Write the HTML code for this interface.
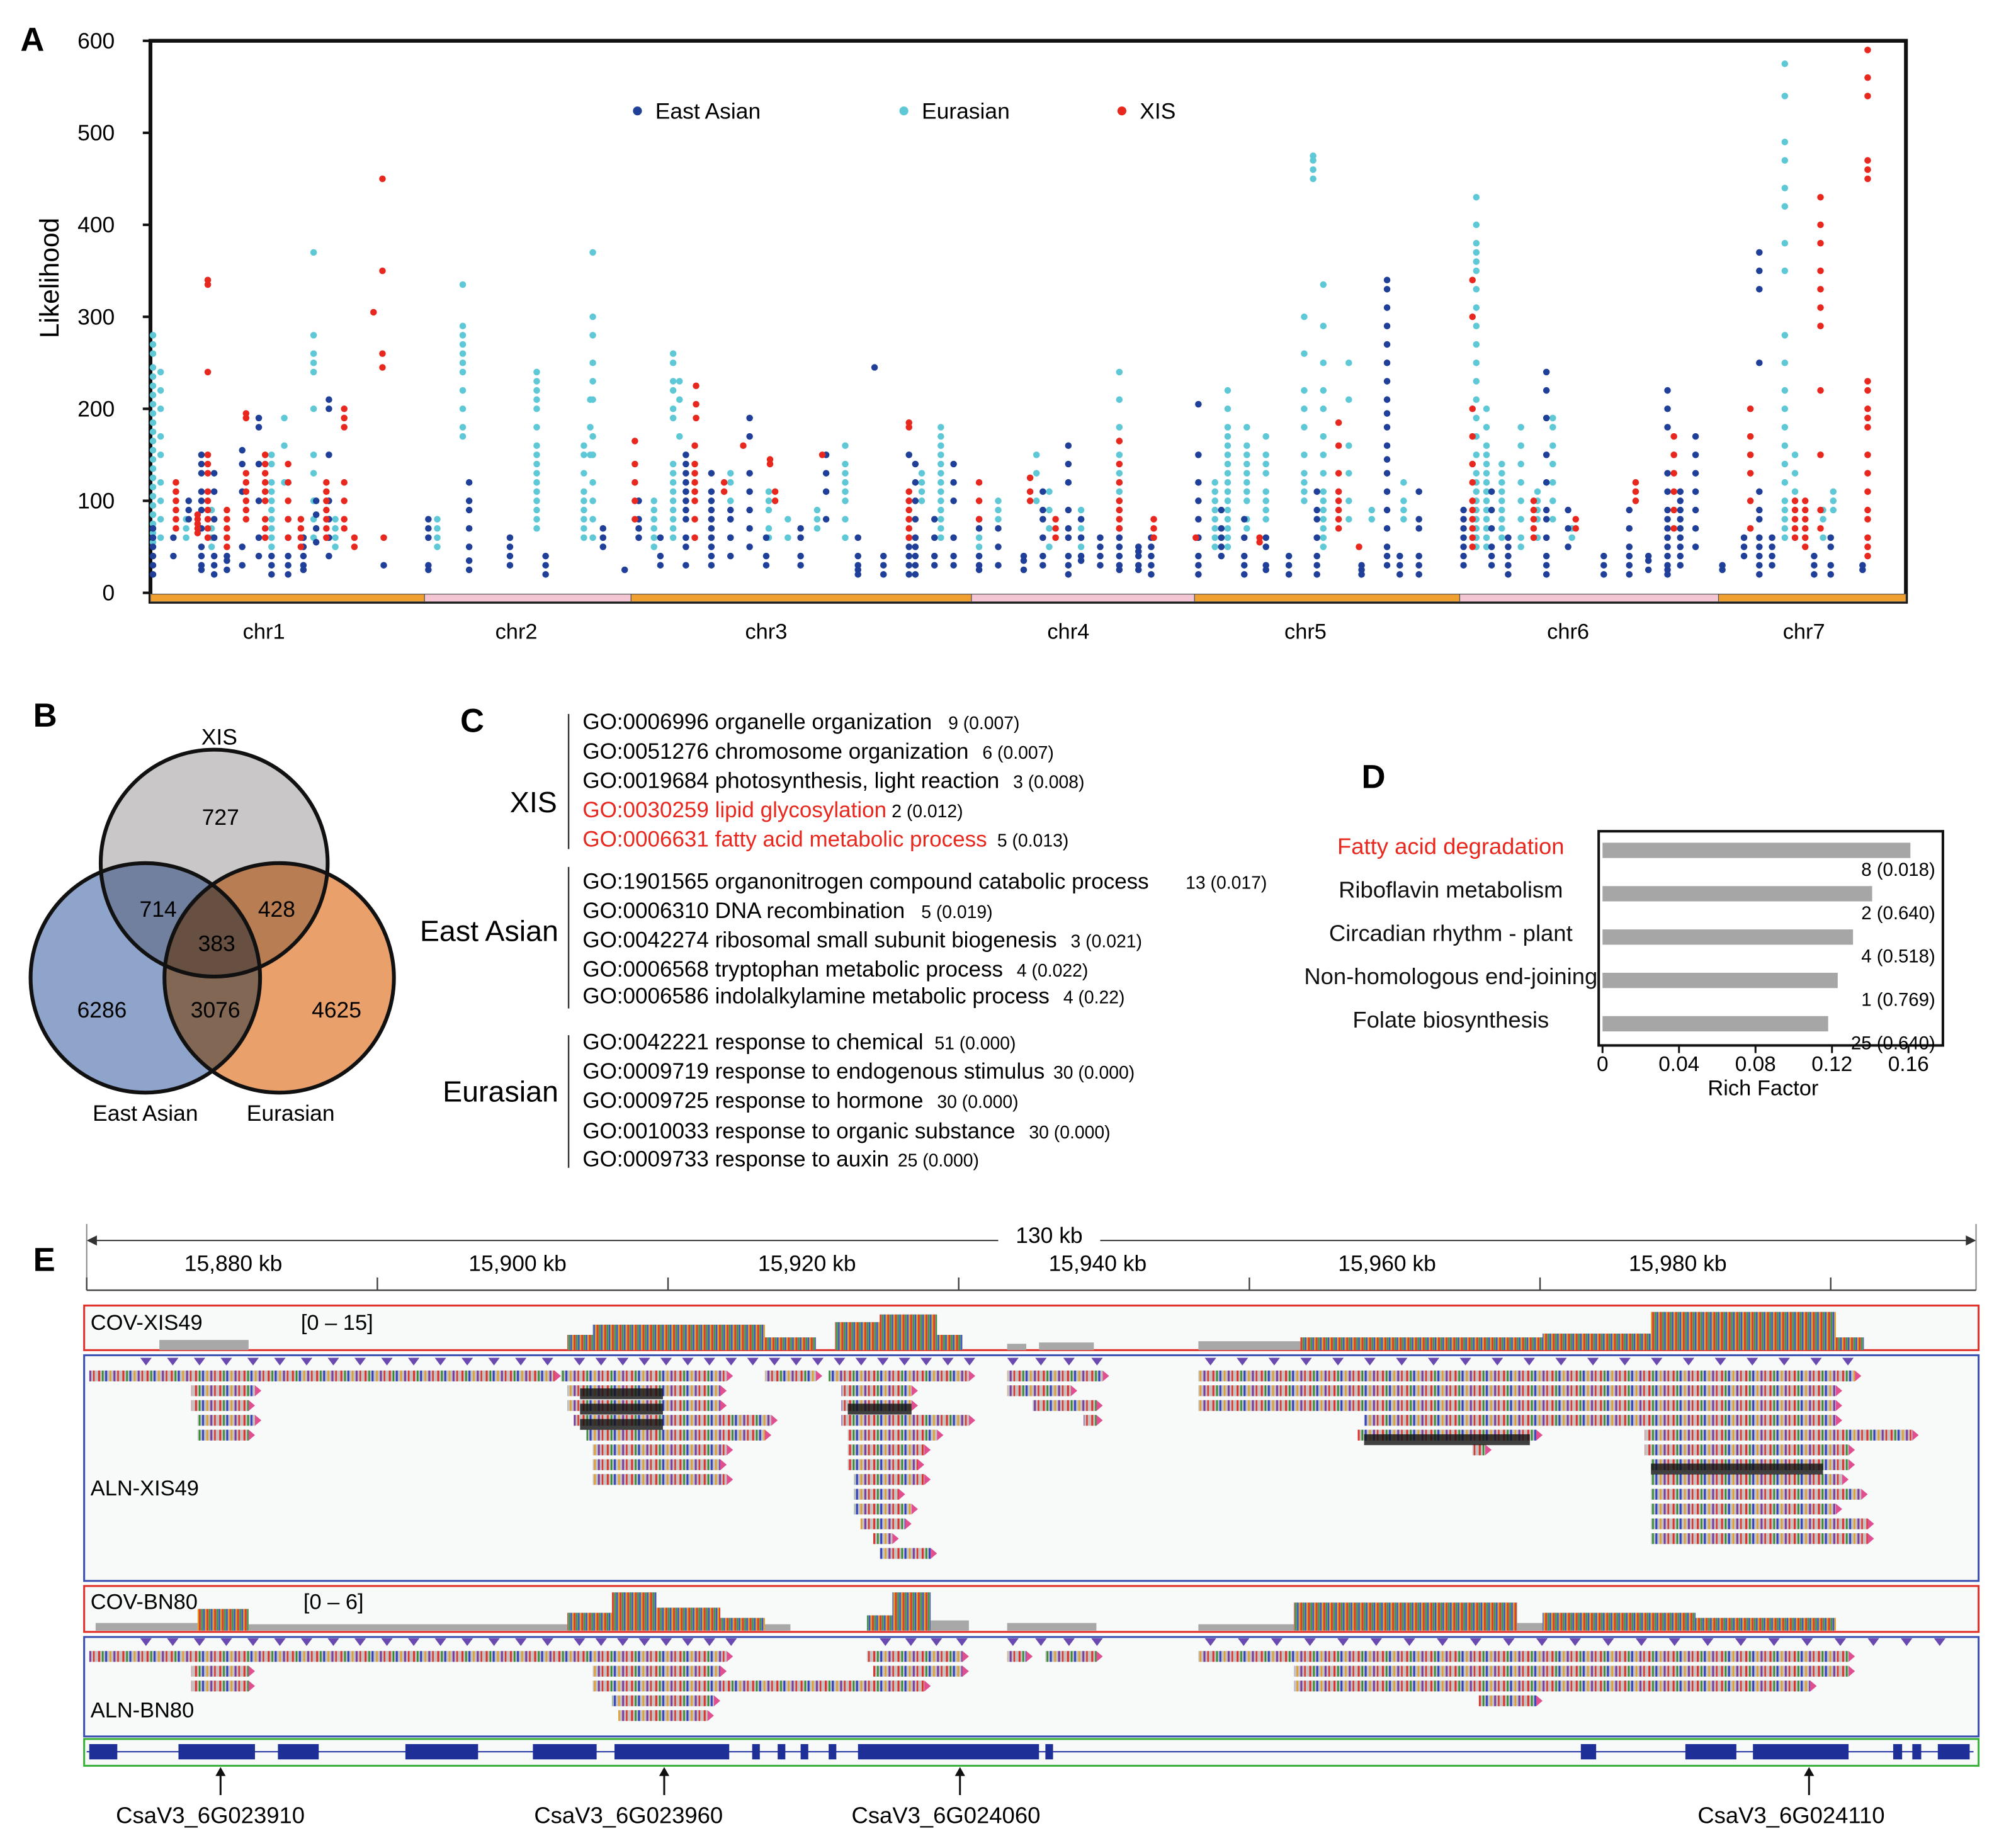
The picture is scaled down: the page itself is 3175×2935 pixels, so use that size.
<!DOCTYPE html>
<html><head><meta charset="utf-8">
<style>
html,body{margin:0;padding:0;background:#fff;}
svg{display:block;font-family:"Liberation Sans",Arial,sans-serif;}
</style></head>
<body>
<svg id="fig" width="3175" height="2935" viewBox="0 0 1568 1449.5" preserveAspectRatio="none" xmlns="http://www.w3.org/2000/svg">
<defs>
<pattern id="mix" width="19" height="10" patternUnits="userSpaceOnUse">
<rect width="19" height="10" fill="#c4c4c4"/>
<rect x="1" width="1.5" height="10" fill="#e0302a"/>
<rect x="4" width="1.2" height="10" fill="#2a8a2a"/>
<rect x="6.5" width="1.5" height="10" fill="#3040c0"/>
<rect x="10" width="1.2" height="10" fill="#e89a20"/>
<rect x="13" width="1.5" height="10" fill="#7a3aa0"/>
<rect x="16" width="1.2" height="10" fill="#e0302a"/>
</pattern>
<pattern id="cov" width="6" height="10" patternUnits="userSpaceOnUse">
<rect width="6" height="10" fill="#999"/>
<rect x="0" width="1.5" height="10" fill="#d8402a"/>
<rect x="2" width="1" height="10" fill="#2f9a3a"/>
<rect x="3.5" width="1" height="10" fill="#3050c8"/>
<rect x="5" width="1" height="10" fill="#e8a020"/>
</pattern>
</defs>

<!-- Panel A -->
<text x="16" y="40" font-size="26" font-weight="bold">A</text>
<g id="panelA"></g>
<text transform="translate(46,218) rotate(-90)" text-anchor="middle" font-size="21">Likelihood</text>
<g>
<circle cx="500" cy="87" r="3.5" fill="#1f3f98"/>
<text x="514" y="93" font-size="17.5">East Asian</text>
<circle cx="709" cy="87" r="3.5" fill="#5ec8d6"/>
<text x="723" y="93" font-size="17.5">Eurasian</text>
<circle cx="880" cy="87" r="3.5" fill="#e8281e"/>
<text x="894" y="93" font-size="17.5">XIS</text>
</g>

<!-- Panel B -->
<text x="26" y="570" font-size="26" font-weight="bold">B</text>
<g>
<g style="isolation:isolate">
<circle cx="168" cy="677" r="89" fill="#c9c7c8" style="mix-blend-mode:multiply"/>
<circle cx="114" cy="767" r="90" fill="#8ea4ca" style="mix-blend-mode:multiply"/>
<circle cx="219" cy="767" r="90" fill="#eaa06a" style="mix-blend-mode:multiply"/>
</g>
<circle cx="168" cy="677" r="89" fill="none" stroke="#111" stroke-width="3"/>
<circle cx="114" cy="767" r="90" fill="none" stroke="#111" stroke-width="3"/>
<circle cx="219" cy="767" r="90" fill="none" stroke="#111" stroke-width="3"/>
<g font-size="17.5" text-anchor="middle">
<text x="172" y="584">XIS</text>
<text x="173" y="647">727</text>
<text x="124" y="719">714</text>
<text x="217" y="719">428</text>
<text x="170" y="746">383</text>
<text x="80" y="798">6286</text>
<text x="169" y="798">3076</text>
<text x="264" y="798">4625</text>
<text x="114" y="879">East Asian</text>
<text x="228" y="879">Eurasian</text>
</g>
</g>

<!-- Panel C -->
<text x="361" y="574" font-size="26" font-weight="bold">C</text>
<g font-size="17.3">
<line x1="446" y1="560" x2="446" y2="666" stroke="#333" stroke-width="1.2"/>
<line x1="446" y1="680" x2="446" y2="791" stroke="#333" stroke-width="1.2"/>
<line x1="446" y1="812" x2="446" y2="916" stroke="#333" stroke-width="1.2"/>
<text x="437" y="637" font-size="23" text-anchor="end">XIS</text>
<text x="438" y="738" font-size="23" text-anchor="end">East Asian</text>
<text x="438" y="864" font-size="23" text-anchor="end">Eurasian</text>
<text x="457" y="572">GO:0006996 organelle organization <tspan font-size="14" dx="8">9 (0.007)</tspan></text>
<text x="457" y="595">GO:0051276 chromosome organization <tspan font-size="14" dx="6">6 (0.007)</tspan></text>
<text x="457" y="618">GO:0019684 photosynthesis, light reaction <tspan font-size="14" dx="6">3 (0.008)</tspan></text>
<text x="457" y="641"><tspan fill="#e8281e">GO:0030259 lipid glycosylation</tspan><tspan font-size="14" dx="4">2 (0.012)</tspan></text>
<text x="457" y="664"><tspan fill="#e8281e">GO:0006631 fatty acid metabolic process</tspan><tspan font-size="14" dx="8">5 (0.013)</tspan></text>
<text x="457" y="697">GO:1901565 organonitrogen compound catabolic process</text>
<text x="930" y="697" font-size="14">13 (0.017)</text>
<text x="457" y="720">GO:0006310 DNA recombination <tspan font-size="14" dx="8">5 (0.019)</tspan></text>
<text x="457" y="743">GO:0042274 ribosomal small subunit biogenesis <tspan font-size="14" dx="6">3 (0.021)</tspan></text>
<text x="457" y="766">GO:0006568 tryptophan metabolic process <tspan font-size="14" dx="6">4 (0.022)</tspan></text>
<text x="457" y="787">GO:0006586 indolalkylamine metabolic process <tspan font-size="14" dx="6">4 (0.22)</tspan></text>
<text x="457" y="823">GO:0042221 response to chemical <tspan font-size="14" dx="4">51 (0.000)</tspan></text>
<text x="457" y="846">GO:0009719 response to endogenous stimulus <tspan font-size="14" dx="2">30 (0.000)</tspan></text>
<text x="457" y="869">GO:0009725 response to hormone <tspan font-size="14" dx="6">30 (0.000)</tspan></text>
<text x="457" y="893">GO:0010033 response to organic substance <tspan font-size="14" dx="6">30 (0.000)</tspan></text>
<text x="457" y="915">GO:0009733 response to auxin <tspan font-size="14" dx="2">25 (0.000)</tspan></text>
</g>

<!-- Panel D -->
<text x="1068" y="618" font-size="26" font-weight="bold">D</text>
<g id="panelD"></g>

<!-- Panel E -->
<text x="26" y="997" font-size="26" font-weight="bold">E</text>
<g id="panelE"></g>
</svg>

<script>
const NS="http://www.w3.org/2000/svg";
function mk(tag,attrs,parent,txt){const e=document.createElementNS(NS,tag);for(const k in attrs)e.setAttribute(k,attrs[k]);if(txt!==undefined)e.textContent=txt;parent.appendChild(e);return e;}

/* ---------- Panel A data ---------- */
const yTicks=[0,100,200,300,400,500,600];
const chromNames=["chr1","chr2","chr3","chr4","chr5","chr6","chr7"];
const chromStarts=[0,215,377,644,819,1027,1230];
const chromEnds=[215,377,644,819,1027,1230,1377];
const chromLabelPos=[89,287,483,720,906,1112,1297];
const eastAsian=[
[2,20,30,40,50,60,70],[18,60,40],[30,100,90,80],[40,150,140,130,110,100,90,70,50,40,30,25],[50,130,110,80,60,40,30,20],
[60,40,35,25],[72,155,140,110,50,30],[85,190,180,140,100,60,40],[95,40,30,20],[108,120,80,60,40,30,20],[120,60,50,40,30,25],
[130,100,85,70,55],[140,210,200,150,100,80,60,40],[183,30],
[218,80,70,60,30,25],[250,120,100,90,70,50,35,25],[282,60,50,40,30],[310,40,30,20],[355,70,60,50],[372,25],
[383,100,80,70,60],[400,60,40,30],[420,150,140,130,120,110,100,90,80,60,50,30],[440,130,110,100,90,80,70,60,50,40,30],
[455,90,80,60,40],[470,190,170,130,110,90,70,50],[483,60,40,30],[510,70,60,40,30],[530,150,130,110,80],[555,60,40,30,20,25],
[568,245],[575,30,40,20],[595,150,100,80,60,50,40,30,20],[600,140,120,100,80,60,50,40,30,20],[615,80,60,40,30],[630,140,120,100,60,40,30],
[650,80,70,40,30,25],[665,70,50,30],[685,40,35,25],[700,110,90,80,60,40,30],[720,160,140,120,90,70,60,40,30,20],[730,80,60,40,35],
[745,60,50,40,30],[760,70,60,50,40,30,25],[775,50,45,40,30,25],[785,60,50,40,30,20],
[822,205,150,120,100,80,60,40,30,20],[840,90,70,60,50,40],[858,80,60,40,30,20],[875,60,50,30,25],[893,40,30,20],[915,110,90,80,60,40,30,20],
[950,30,25,20],[970,340,330,310,290,270,250,230,210,195,180,160,145,130,110,90,70,50,40,30],[980,40,30,20],[995,110,80,70,40,30,20],
[1030,90,80,70,60,50,40,30],[1052,110,90,70,50,40,30],[1065,60,50,40,30,20],[1095,240,220,190,150,120,90,80,60,40,30,20],[1112,90,70,50],
[1140,40,30,20],[1160,90,70,50,40,30,20],[1175,40,35,25],[1190,220,200,180,130,110,90,80,70,60,50,40,30,25,20],
[1200,110,100,90,80,70,60,50,40,30],[1212,170,150,130,110,90,70,50],
[1233,30,25],[1250,60,50,40],[1262,370,350,330,250,110,90,80,60,50,40,30,20],[1272,60,50,40,30],[1305,40,30,20],[1318,60,50,30,20],[1343,30,25]
];
const eurasian=[
[2,280,270,260,245,235,225,215,205,195,185,175,165,155,145,135,125,115,105,95,85,75,65,55],[8,240,220,200,170,150,120,100,80,60],
[28,80,70,60],[48,90,70,60,50],[95,150,140,120,110,100,90,80,70,60,50],[105,190,160,120],[128,370,280,260,250,240,200,150,130,100,80,60],[145,80,70,60,50],
[225,80,70,60,50],[245,335,290,280,270,260,250,240,220,200,180,170],[303,240,230,220,210,200,180,160,150,140,130,120,110,100,90,80,70],
[340,160,150,130,110,100,90,80,70,60],[345,210,180,150],[347,370,300,280,250,230,210,170,150,120,100,80,60],
[395,100,90,80,70,60,50],[410,260,250,230,220,200,190,140,130,120,110,100,90,80,70,60],[415,230,210,170],[455,130,120,100,80,60],
[485,110,100,90,70,60],[500,80,60],[523,90,80,70],[545,160,140,130,120,110,100,80,60],[605,130,120,110,100],
[620,180,170,160,150,140,130,120,110,100,90,80,70,60],
[650,70,60,50,40],[665,100,90,80],[695,150,130,100],[705,110,90,70,50],[730,90,80,70,60,50],[760,240,210,180,150,130,120,110,100,90],
[835,120,110,100,90,80,70,60,50],[845,220,200,180,170,160,150,140,130,120,110,100,90,80,70,60,50],[860,180,160,150,140,130,120,110,100,80,70],
[875,170,150,140,130,110,100,90,80],[905,300,260,220,200,180,150,130,120,110,100],[912,475,470,460,450],
[920,335,290,250,220,200,170,150,130,110,100,90,80,70,60,50],[940,250,210,160,130,100,80],[958,90,80],[983,120,100,90,80],
[1040,430,400,380,370,360,350,330,310,290,270,250,230,210,190,170,150,130,120,110,100,90,80,70,60,50],
[1048,200,180,160,150,140,130,120,110,100,90,80,70,60,50],[1060,140,130,120,110,100,90,80,70,60],[1075,180,160,140,120,100,80,60,50],
[1088,110,100,90,80,60],[1100,190,180,160,140,120,100,80],[1115,70,60],
[1282,575,540,490,470,440,420,380,350,280,250,220,200,180,160,140,120,100,90,80,70,60],[1290,150,130,110,100],[1312,90,80,60],[1320,110,100,90]
];
const xis=[
[20,120,110,100,90,80,70],[37,85,80,75,70,65],[45,340,335,240,150,140,130,110,100,90,80,70,60],[60,90,80,70,60,50],
[75,195,190,130,120,110,100,90,80],[90,150,140,130,120,110,100,80,70,60],[108,140,120,100,80,60],[118,80,70,60,50],
[138,120,110,100,90,80,70,60],[152,200,190,180,120,100,80,70],[160,60,50],[175,305],[182,450,350,260,245],[183,60],
[380,165,140,120,100,80],[427,160,140,130,120,110,100,80,60],[428,225,205,190],[450,120,110],[465,160],[486,145,140],[490,110,100],[527,150],
[595,185,180,110,100,90,80,70,60],
[650,120,100,80],[690,125,110,100],[710,80,70,60],[760,165,140,120,100,90,80,70],[787,80,70,60],
[820,60],[870,60,55],[932,185,160,130,110,100,90,80,70],[948,50],
[1037,340,300,200,170,140,120,100,90,80,70,60,50],[1085,100,90,80,70,60],[1118,80,70],[1165,120,110,100],[1195,170,150,130,110,90,70],
[1255,200,170,150,130,100,70],[1290,100,90,80,70,60],[1298,100,90,80,70,60,50],[1310,430,400,380,350,330,310,290,220,150,90,70],
[1347,590,560,540,470,460,450,230,220,200,190,180,150,130,110,90,80,60,50,40]
];
const PA={x0:118,x1:1495,y0:465,y1:32,max:600};
const xA=g=>PA.x0+g;
const yA=v=>PA.y0-(v/PA.max)*(PA.y0-PA.y1);

(function(){
const g=document.getElementById('panelA');
const frame=mk('rect',{x:PA.x0,y:PA.y1,width:PA.x1-PA.x0,height:PA.y0-PA.y1+7,fill:'none',stroke:'#111','stroke-width':3},g);


yTicks.forEach(t=>{
  const y=yA(t);
  mk('line',{x1:PA.x0-6,x2:PA.x0,y1:y,y2:y,stroke:'#111','stroke-width':2},g);
  const tx=mk('text',{x:PA.x0-28,y:y+6,'font-size':17.5,'text-anchor':'end'},g,String(t));
  
  
});
chromNames.forEach((n,i)=>{
  const a=xA(chromStarts[i]),b=xA(chromEnds[i]);
  const r=mk('rect',{x:a,y:PA.y0+1,width:b-a,height:6,fill:i%2?'#f4c6d4':'#f0a030',stroke:'#555','stroke-width':0.6},g);
  
  
  const t=mk('text',{x:xA(chromLabelPos[i]),y:501,'font-size':17,'text-anchor':'middle'},g,n);
  
  
});
function drawSeries(data,color,name){
  const sg=mk('g',{},g);
  
  
  data.forEach(col=>{
    for(let k=1;k<col.length;k++){
      const c=mk('circle',{cx:xA(col[0]),cy:yA(col[k]),r:2.6,fill:color},sg);
      
      
    }
  });
}
drawSeries(eurasian,'#5ec8d6','eurasian');
drawSeries(eastAsian,'#1f3f98','east-asian');
drawSeries(xis,'#e8281e','xis');
})();

/* ---------- Panel D data ---------- */
const keggTerms=["Fatty acid degradation","Riboflavin metabolism","Circadian rhythm - plant","Non-homologous end-joining","Folate biosynthesis"];
const richFactor=[0.161,0.141,0.131,0.123,0.118];
const keggLabels=["8 (0.018)","2 (0.640)","4 (0.518)","1 (0.769)","25 (0.640)"];
const dTicks=[0,0.04,0.08,0.12,0.16];
(function(){
const g=document.getElementById('panelD');
const x0=1257,k=1500,top=652;
const xD=v=>x0+v*k;
const box=mk('rect',{x:1254,y:top,width:270,height:168,fill:'none',stroke:'#111','stroke-width':2},g);


keggTerms.forEach((t,i)=>{
  const cy=667+i*34;
  const b=mk('rect',{x:x0,y:cy-6,width:xD(richFactor[i])-x0,height:12,fill:'#a6a6a6'},g);
  
  
  const l=mk('text',{x:1138,y:cy+3,'font-size':18,'text-anchor':'middle',fill:i===0?'#e8281e':'#111'},g,t);
  
  
  const v=mk('text',{x:1518,y:cy+20,'font-size':14.5,'text-anchor':'end'},g,keggLabels[i]);
  
  
});
dTicks.forEach(t=>{
  const x=xD(t);
  mk('line',{x1:x,x2:x,y1:820,y2:826,stroke:'#111','stroke-width':1.5},g);
  const tx=mk('text',{x:x,y:840,'font-size':16.5,'text-anchor':'middle'},g,String(t));
  
  
});
const at=mk('text',{x:1383,y:859,'font-size':17,'text-anchor':'middle'},g,'Rich Factor');


})();

/* ---------- Panel E data ---------- */
const rulerLabels=["15,880 kb","15,900 kb","15,920 kb","15,940 kb","15,960 kb","15,980 kb"];
const rulerPos=[183,406,633,861,1088,1316];
const covXIS=[[125,195,8],[445,465,12],[465,600,20],[600,640,10],[655,690,22],[690,735,28],[735,755,12],[790,805,5],[815,858,6],[940,1020,7],[1020,1210,10],[1210,1295,13],[1295,1440,30],[1440,1462,10]];
const covBN=[[75,155,6],[155,195,17],[195,445,5],[445,480,14],[480,515,30],[515,565,18],[565,600,10],[600,620,5],[680,700,12],[700,730,30],[730,760,8],[790,860,6],[940,1015,5],[1015,1190,22],[1190,1210,6],[1210,1330,14],[1330,1440,10]];
const readsXIS=[
[[70,435],[440,570],[600,640],[650,760],[790,865],[940,1455]],
[[150,200],[445,565],[660,715],[790,840],[940,1440]],
[[150,195],[445,565],[660,715],[810,860],[940,1440]],
[[155,200],[450,605],[660,760],[850,860],[1070,1440]],
[[155,195],[460,600],[665,735],[1065,1205],[1290,1500]],
[[465,570],[665,725],[1155,1165],[1290,1450]],
[[465,565],[665,720],[1295,1450]],
[[465,570],[670,725],[1295,1445]],
[[670,705],[1295,1460]],
[[670,715],[1295,1440]],
[[675,710],[1295,1465]],
[[685,700],[1295,1465]],
[[690,730]]
];
const readsBN=[
[[70,570],[680,755],[790,805],[820,860],[940,1450]],
[[150,195],[465,565],[685,755],[1015,1450]],
[[150,195],[465,725],[685,725],[1015,1420]],
[[480,560],[1160,1205]],
[[485,555]]
];
const genes=[[70,92],[140,200],[218,250],[318,375],[418,468],[482,572],[590,596],[610,616],[628,634],[650,656],[673,815],[820,826],[1240,1252],[1322,1362],[1375,1450],[1485,1492],[1500,1507],[1520,1545]];
const geneNames=["CsaV3_6G023910","CsaV3_6G023960","CsaV3_6G024060","CsaV3_6G024110"];
const geneArrowX=[173,521,753,1419];
const geneLabelX=[165,493,742,1405];
(function(){
const g=document.getElementById('panelE');
const rl=mk('line',{x1:72,x2:1546,y1:973,y2:973,stroke:'#333','stroke-width':1},g);


mk('path',{d:'M68,973 l8,-4 v8 z M1550,973 l-8,-4 v8 z',fill:'#333'},g);
mk('rect',{x:783,y:958,width:80,height:20,fill:'#fff'},g);
const kb=mk('text',{x:823,y:975,'font-size':17.5,'text-anchor':'middle'},g,'130 kb');


mk('line',{x1:68,x2:68,y1:960,y2:1012,stroke:'#888','stroke-width':1},g);
mk('line',{x1:1550,x2:1550,y1:960,y2:1012,stroke:'#888','stroke-width':1},g);
mk('line',{x1:68,x2:1550,y1:1012,y2:1012,stroke:'#444','stroke-width':1.2},g);
for(let i=0;i<7;i++){const x=68+i*228;mk('line',{x1:x,x2:x,y1:1002,y2:1012,stroke:'#444','stroke-width':1.2},g);}
rulerLabels.forEach((t,i)=>{
  const tx=mk('text',{x:rulerPos[i],y:997,'font-size':17.5,'text-anchor':'middle'},g,t);
  
  
});
function box(y,h,col,name){const r=mk('rect',{x:66,y:y,width:1486,height:h,fill:'#f8fafa',stroke:col,'stroke-width':1.5},g);}
box(1024,35,'#e0302a','cov-xis49-track');
box(1063,177,'#3a50b0','aln-xis49-track');
box(1244,36,'#e0302a','cov-bn80-track');
box(1284,78,'#3a50b0','aln-bn80-track');
box(1364,21,'#3ab03a','gene-track');
function cov(data,base,name){
  data.forEach(d=>{
    const r=mk('rect',{x:d[0],y:base-d[2],width:d[1]-d[0],height:d[2],fill:d[2]>9?'url(#cov)':'#a8a8a8'},g);
    
    
  });
}
cov(covXIS,1059,'coverage-bar-xis49');
cov(covBN,1279,'coverage-bar-bn80');
function tri(y,ranges){
  ranges.forEach(rg=>{for(let x=rg[0];x<rg[1];x+=rg[2]){mk('path',{d:`M${x},${y} h9 l-4.5,6 z`,fill:'#6a4ab0'},g);}});
}
tri(1065,[[110,440,21],[450,760,17],[790,860,22],[945,1450,25]]);
tri(1285,[[110,440,21],[450,570,17],[690,760,20],[790,860,22],[945,1540,26]]);
function reads(rows,y0,name){
  rows.forEach((row,ri)=>{
    row.forEach(s=>{
      const r=mk('rect',{x:s[0],y:y0+ri*11.6,width:s[1]-s[0],height:8.5,fill:'url(#mix)'},g);
      
      
      mk('path',{d:`M${s[1]},${y0+ri*11.6} l5,4.25 l-5,4.25 z`,fill:'#e05090'},g);
    });
  });
}
reads(readsXIS,1075,'read-xis49');
reads(readsBN,1295,'read-bn80');
[[455,520,1089],[455,520,1101],[455,520,1113],[665,715,1101],[1070,1200,1125],[1295,1430,1148]].forEach(b=>{mk('rect',{x:b[0],y:b[2],width:b[1]-b[0],height:8.5,fill:'#111',opacity:0.8},g);});
const labs=[['COV-XIS49',71,1043],['ALN-XIS49',71,1173],['COV-BN80',71,1262],['ALN-BN80',71,1347]];
labs.forEach(l=>{const t=mk('text',{x:l[1],y:l[2],'font-size':17},g,l[0]);});
const r1=mk('text',{x:236,y:1043,'font-size':17},g,'[0 – 15]');
const r2=mk('text',{x:238,y:1262,'font-size':17},g,'[0 – 6]');
mk('line',{x1:68,x2:1548,y1:1374,y2:1374,stroke:'#2030a0','stroke-width':1},g);
genes.forEach(s=>{const r=mk('rect',{x:s[0],y:1368,width:s[1]-s[0],height:12,fill:'#1f2f98'},g);});
geneNames.forEach((n,i)=>{
  mk('line',{x1:geneArrowX[i],x2:geneArrowX[i],y1:1408,y2:1390,stroke:'#111','stroke-width':1.5},g);
  mk('path',{d:`M${geneArrowX[i]},1386 l-4,7 h8 z`,fill:'#111'},g);
  const t=mk('text',{x:geneLabelX[i],y:1430,'font-size':18,'text-anchor':'middle'},g,n);
  
  
});
})();
</script>
</body></html>
